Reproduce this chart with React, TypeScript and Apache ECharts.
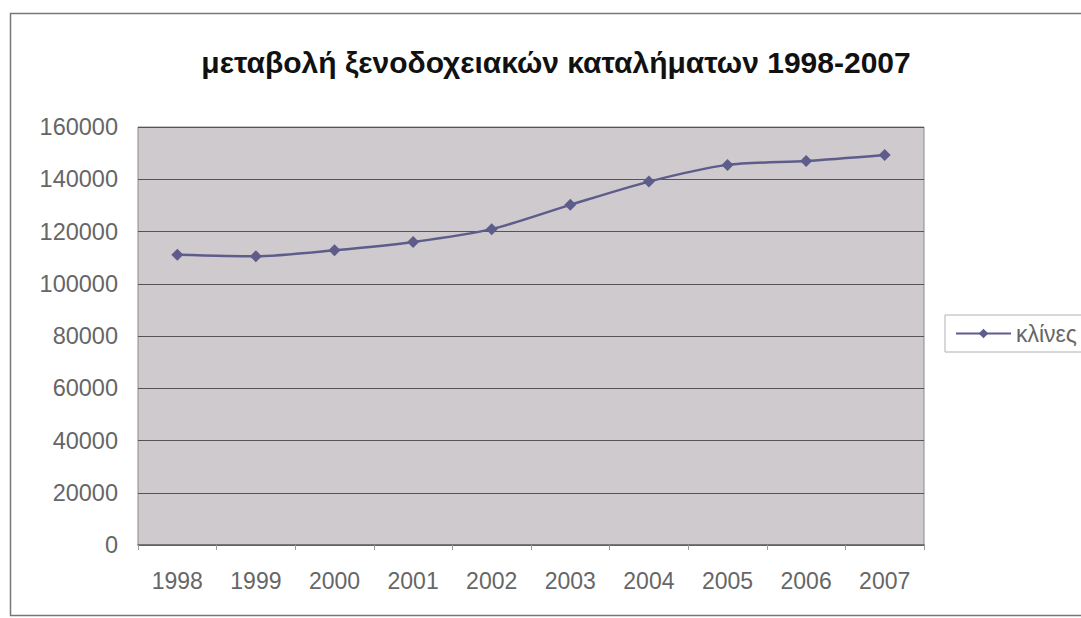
import React, { useEffect, useRef } from "react";
import * as echarts from "echarts";

const years = ["1998", "1999", "2000", "2001", "2002", "2003", "2004", "2005", "2006", "2007"];
const beds = [111100, 110500, 112800, 116000, 120900, 130200, 139100, 145500, 147000, 149300];
const yTicks = { min: 0, max: 160000, interval: 20000 };
const titleText = "μεταβολή ξενοδοχειακών καταλήματων 1998-2007";
const seriesName = "κλίνες";

export default function App() {
  const ref = useRef<HTMLDivElement>(null);
  useEffect(() => {
    if (!ref.current) return;
    const chart = echarts.init(ref.current, null, { renderer: "svg" });
    const font = "'Liberation Sans', Arial, sans-serif";
    chart.setOption({
      animation: false,
      backgroundColor: "#ffffff",
      textStyle: { fontFamily: font },
      title: {
        text: titleText,
        left: 551,
        textAlign: "center",
        top: 42,
        textStyle: { fontSize: 30, fontWeight: "bold", color: "#111", fontFamily: font },
      },
      graphic: [
        {
          type: "rect",
          shape: { x: 10.5, y: 13.5, width: 1100, height: 602 },
          style: { fill: "none", stroke: "#777", lineWidth: 1.5 },
          silent: true,
        },
      ],
      legend: {
        left: 945,
        top: 315,
        orient: "vertical",
        borderColor: "#b0b0b0",
        borderWidth: 1,
        padding: [7, 40, 7, 10],
        itemWidth: 55,
        itemHeight: 12,
        itemGap: 6,
        textStyle: { fontSize: 23, color: "#666", fontFamily: font },
        data: [seriesName],
      },
      grid: {
        left: 138,
        top: 127,
        width: 786,
        height: 418,
        show: true,
        backgroundColor: "#cfcacd",
        borderColor: "#8a8a8a",
        borderWidth: 1,
      },
      xAxis: {
        type: "category",
        data: years,
        boundaryGap: true,
        axisLine: { show: true, lineStyle: { color: "#666", width: 1.5 } },
        axisTick: { show: true, alignWithLabel: false, length: 5, lineStyle: { color: "#999" } },
        axisLabel: { fontSize: 23, color: "#666", margin: 24, fontFamily: font },
        splitLine: { show: false },
      },
      yAxis: {
        type: "value",
        min: yTicks.min,
        max: yTicks.max,
        interval: yTicks.interval,
        axisLine: { show: false },
        axisTick: { show: false },
        axisLabel: {
          fontSize: 23.5,
          color: "#666",
          margin: 20,
          fontFamily: font,
          formatter: (v: number) => String(v),
        },
        splitLine: { show: true, lineStyle: { color: "#555", width: 1.2 } },
      },
      series: [
        {
          name: seriesName,
          type: "line",
          data: beds,
          smooth: 0.25,
          symbol: "diamond",
          symbolSize: 12,
          lineStyle: { color: "#5e5c8a", width: 2.5 },
          itemStyle: { color: "#5e5c8a" },
        },
      ],
    });
    return () => chart.dispose();
  }, []);
  return (
    <div
      ref={ref}
      style={{ position: "fixed", left: 0, top: 0, width: 1081, height: 618 }}
    />
  );
}
